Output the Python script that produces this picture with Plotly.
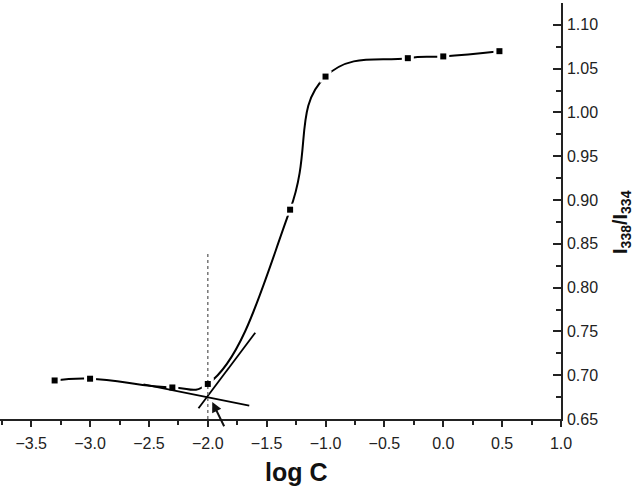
import plotly.graph_objects as go

# Data
log_c = [-3.301, -3.0, -2.301, -2.0, -1.301, -1.0, -0.301, 0.0, 0.477]
ratio = [0.694, 0.696, 0.686, 0.690, 0.889, 1.041, 1.062, 1.064, 1.070]

# Tangent lines (end points)
base_tan_x = [-2.546, -1.648]
base_tan_y = [0.6896, 0.6652]
steep_tan_x = [-2.079, -1.597]
steep_tan_y = [0.6622, 0.7485]

# Dotted guide at CAC
cac_x = [-2.0, -2.0]
cac_y = [0.65, 0.840]

# Arrow (tip, tail)
arrow_tip = (-1.962, 0.6694)
arrow_tail = (-1.855, 0.640)

x_ticks = [-3.5, -3.0, -2.5, -2.0, -1.5, -1.0, -0.5, 0.0, 0.5, 1.0]
y_ticks = [0.65, 0.70, 0.75, 0.80, 0.85, 0.90, 0.95, 1.00, 1.05, 1.10]

FONT = "Liberation Sans, Arial"

fig = go.Figure()
fig.add_trace(go.Scatter(x=log_c, y=ratio, mode="lines",
                         line=dict(color="black", width=2, shape="spline", smoothing=1.3),
                         showlegend=False, hoverinfo="skip"))
fig.add_trace(go.Scatter(x=log_c, y=ratio, mode="markers",
                         marker=dict(symbol="square", size=12, color="white", line=dict(width=0)),
                         showlegend=False, hoverinfo="skip"))
fig.add_trace(go.Scatter(x=base_tan_x, y=base_tan_y, mode="lines",
                         line=dict(color="black", width=1.8), showlegend=False))
fig.add_trace(go.Scatter(x=steep_tan_x, y=steep_tan_y, mode="lines",
                         line=dict(color="black", width=1.8), showlegend=False))
fig.add_trace(go.Scatter(x=cac_x, y=cac_y, mode="lines",
                         line=dict(color="#777777", width=1.5, dash="dot"), showlegend=False))
fig.add_trace(go.Scatter(x=log_c, y=ratio, mode="markers",
                         marker=dict(symbol="square", size=6, color="black", line=dict(width=0)),
                         showlegend=False))

fig.add_annotation(x=arrow_tip[0], y=arrow_tip[1], ax=arrow_tail[0], ay=arrow_tail[1],
                   xref="x", yref="y", axref="x", ayref="y", text="", showarrow=True,
                   arrowhead=2, arrowsize=1, arrowwidth=2, arrowcolor="#111", standoff=0)

fig.add_annotation(x=0.529, y=-0.127, xref="paper", yref="paper", text="<b>log C</b>",
                   showarrow=False, font=dict(family=FONT, size=25, color="#111"),
                   xanchor="center", yanchor="middle")
fig.add_annotation(x=1.1087, y=0.4736, xref="paper", yref="paper",
                   text="<b>I<sub>338</sub>/I<sub>334</sub></b>", textangle=-90,
                   showarrow=False, font=dict(family=FONT, size=20, color="#111"),
                   xanchor="center", yanchor="middle")

fig.update_xaxes(range=[-3.765, 1.0], tickvals=x_ticks, tickformat=".1f",
                 ticks="outside", ticklen=6, tickwidth=1.5, tickcolor="#222",
                 minor=dict(dtick=0.25, tick0=0, ticks="outside", ticklen=4, tickwidth=1.5, tickcolor="#222"),
                 showline=True, linecolor="#222", linewidth=1.5, showgrid=False, zeroline=False,
                 ticklabelstandoff=3,
                 tickfont=dict(family=FONT, size=16, color="#222"))
fig.update_yaxes(side="right", range=[0.65, 1.125], tickvals=y_ticks, tickformat=".2f",
                 ticks="inside", ticklen=8, tickwidth=1.5, tickcolor="#222",
                 minor=dict(dtick=0.025, tick0=0.65, ticks="inside", ticklen=5, tickwidth=1.5, tickcolor="#222"),
                 showline=True, linecolor="#222", linewidth=1.5, showgrid=False, zeroline=False,
                 ticklabelstandoff=1,
                 tickfont=dict(family=FONT, size=16, color="#222"))

fig.update_layout(width=640, height=487, margin=dict(l=0, r=79, t=3, b=68, autoexpand=False),
                  plot_bgcolor="white", paper_bgcolor="white", showlegend=False)

fig.write_html("out.html", config={"displayModeBar": False},
               post_script="document.body.style.margin='0';")
